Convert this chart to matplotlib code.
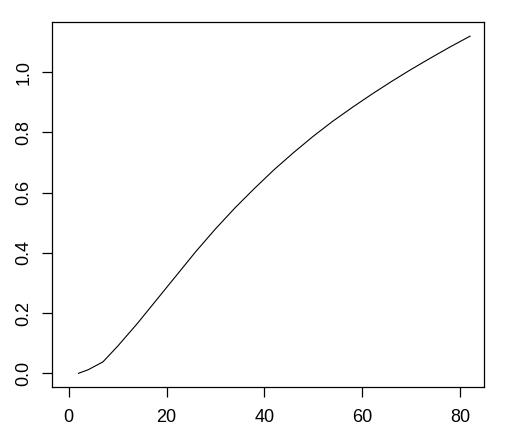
import matplotlib
matplotlib.use("Agg")
import matplotlib.pyplot as plt

x_vals = [2, 4, 7, 10, 14, 18, 22, 26, 30, 34, 38, 42, 46, 50, 54, 58, 62, 66, 70, 74, 78, 82]
y_vals = [0.0, 0.012, 0.038, 0.09, 0.165, 0.245, 0.325, 0.405, 0.48, 0.55, 0.615, 0.677,
          0.734, 0.788, 0.838, 0.884, 0.928, 0.97, 1.01, 1.048, 1.085, 1.12]
x_ticks = [0, 20, 40, 60, 80]
y_ticks = [0.0, 0.2, 0.4, 0.6, 0.8, 1.0]

plt.rcParams['font.family'] = ['Liberation Sans', 'DejaVu Sans']
fig = plt.figure(figsize=(5.12, 4.33), dpi=100)
ax = fig.add_axes([52/512, 46/433, 432/512, 365/433])
ax.plot(x_vals, y_vals, color='black', linewidth=0.8)
ax.set_xlim(-3.41, 84.84)
ax.set_ylim(-0.0455, 1.167)
ax.set_xticks(x_ticks)
ax.set_xticklabels([f"{t:d}" for t in x_ticks])
ax.set_yticks(y_ticks)
ax.set_yticklabels([f"{t:.1f}" for t in y_ticks], rotation=90, va='center')
ax.tick_params(axis='both', direction='out', length=7, width=0.9, labelsize=13, color='black')
ax.tick_params(axis='x', pad=9)
ax.tick_params(axis='y', pad=7)
for s in ax.spines.values():
    s.set_linewidth(0.9)
fig.savefig("out.png", dpi=100)
